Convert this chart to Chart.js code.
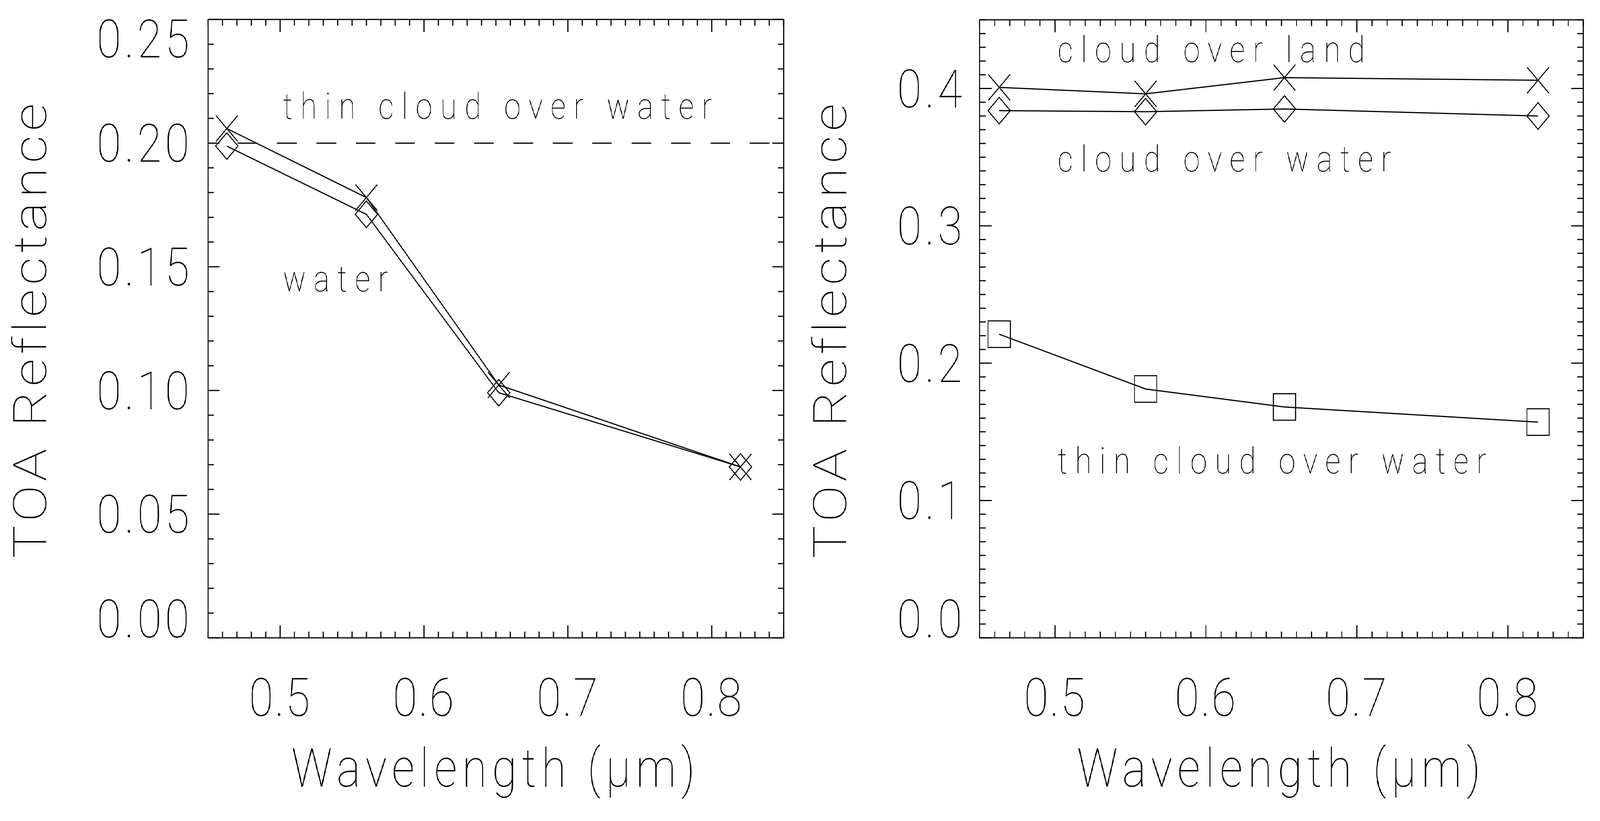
<!DOCTYPE html>
<html><head><meta charset="utf-8">
<script src="https://cdn.jsdelivr.net/npm/chart.js@4.4.1/dist/chart.umd.min.js"></script>
<style>
html,body{margin:0;padding:0;background:#fff;overflow:hidden;}
#wrap{position:absolute;left:0;top:0;width:4874px;height:2102px;background:#fff;transform-origin:0 0;}
canvas{position:absolute;top:0;}
#c1{left:0;}
#c2{left:2437px;}
</style></head><body>
<div id="wrap"><canvas id="c1" width="2437" height="2102" style="width:2437px;height:2102px"></canvas><canvas id="c2" width="2437" height="2102" style="width:2437px;height:2102px"></canvas></div>
<script>
// ---------- data ----------
const wavelength = [0.463, 0.560, 0.652, 0.820];
// left panel
const waterCross = [0.2059, 0.1780, 0.1022, 0.0691];
const waterDiamond = [0.1988, 0.1712, 0.0991, 0.0691];
const thinCloudLevel = 0.20;
// right panel
const cloudOverLand = [0.4008, 0.3961, 0.4079, 0.4060];
const cloudOverWater = [0.3839, 0.3831, 0.3851, 0.3800];
const thinCloudOverWater = [0.2211, 0.1812, 0.1681, 0.1571];
// axes
const xRange = [0.45, 0.85];
const xTicks = [0.5, 0.6, 0.7, 0.8];
const xTickLabels = ['0.5', '0.6', '0.7', '0.8'];
const leftYRange = [0, 0.25];
const leftYTicks = [0, 0.05, 0.10, 0.15, 0.20, 0.25];
const leftYTickLabels = ['0.00', '0.05', '0.10', '0.15', '0.20', '0.25'];
const rightYRange = [0, 0.45];
const rightYTicks = [0, 0.1, 0.2, 0.3, 0.4];
const rightYTickLabels = ['0.0', '0.1', '0.2', '0.3', '0.4'];
const xTitle = 'Wavelength (\u03BCm)';
const yTitle = 'TOA Reflectance';
const leftNotes = ['thin cloud over water', 'water'];
const rightNotes = ['cloud over land', 'cloud over water', 'thin cloud over water'];

// fit the 4874x2102 page into the actual viewport
(function () {
  const sx = window.innerWidth / 4874, sy = window.innerHeight / 2102;
  document.getElementById('wrap').style.transform = 'scale(' + sx + ',' + sy + ')';
})();

// ---------- helpers ----------
const FAM = 'Roboto, "DejaVu Sans", sans-serif';
const pts = ys => wavelength.map((w, i) => ({x: w, y: ys[i]}));

const spacingPlugin = {
  id: 'spacing',
  afterLayout(chart, args, o) {
    Object.keys(chart.scales).forEach(id => {
      const s = chart.scales[id];
      if (s.$ls) return;
      const cfg = (o && o[id]) || {};
      const wrap = (fn, ls) => function () {
        const c = this.ctx; c.save();
        if (ls != null) c.letterSpacing = ls + 'px';
        fn.apply(this, arguments); c.restore();
      };
      s.drawLabels = wrap(s.drawLabels, cfg.ticks);
      s.drawTitle = wrap(s.drawTitle, cfg.title);
      s.$ls = true;
    });
  }
};

const framePlugin = {
  id: 'frame',
  afterDatasetsDraw(chart, args, o) {
    const {ctx, chartArea: a, scales: {x, y}} = chart;
    ctx.save();
    ctx.strokeStyle = '#000'; ctx.lineWidth = 3; ctx.lineCap = 'butt';
    ctx.beginPath();
    const x0 = Math.round(x.min * 100), x1 = Math.round(x.max * 100);
    for (let i = x0; i <= x1; i++) {
      const px = x.getPixelForValue(i / 100);
      const len = (i % 10 === 0) ? o.xMajor : o.xMajor / 2;
      ctx.moveTo(px, a.bottom); ctx.lineTo(px, a.bottom - len);
      ctx.moveTo(px, a.top); ctx.lineTo(px, a.top + len);
    }
    const y0 = Math.round(y.min * 100), y1 = Math.round(y.max * 100);
    for (let i = y0; i <= y1; i++) {
      const py = y.getPixelForValue(i / 100);
      const len = (i % o.yMajorEvery === 0) ? o.yMajor : o.yMajor / 2;
      ctx.moveTo(a.left, py); ctx.lineTo(a.left + len, py);
      ctx.moveTo(a.right, py); ctx.lineTo(a.right - len, py);
    }
    ctx.stroke();
    ctx.strokeRect(a.left, a.top, a.right - a.left, a.bottom - a.top);
    // text notes
    ctx.fillStyle = '#000';
    ctx.font = '100 92px ' + FAM;
    ctx.textAlign = 'left'; ctx.textBaseline = 'alphabetic';
    ctx.letterSpacing = '24px';
    (o.notes || []).forEach(n => {
      ctx.fillText(n.text, x.getPixelForValue(n.x), y.getPixelForValue(n.y));
    });
    ctx.restore();
  }
};

function makeChart(el, cfg) {
  const edgeLabel = (labs, range) => (v, i) => {
    const lab = labs[i];
    if (Math.abs(v - range[0]) < 1e-9) return [lab, ''];
    if (Math.abs(v - range[1]) < 1e-9) return ['', lab];
    return lab;
  };
  return new Chart(el, {
    type: 'line',
    data: {datasets: cfg.datasets},
    options: {
      responsive: false, animation: false, devicePixelRatio: 1, events: [],
      layout: {padding: {left: 0, right: 47, top: 46, bottom: 0}},
      plugins: {
        legend: {display: false}, tooltip: {enabled: false},
        frame: {xMajor: 32, yMajor: cfg.yMajor, yMajorEvery: cfg.yMajorEvery, notes: cfg.notes},
        spacing: {x: {ticks: 4, title: 16}, y: {ticks: 10, title: 11}}
      },
      scales: {
        x: {
          type: 'linear', position: 'bottom', min: xRange[0], max: xRange[1],
          afterBuildTicks: s => { s.ticks = xTicks.map(v => ({value: v})); },
          afterFit: s => { s.height = 469; s.paddingLeft = 0; s.paddingRight = 0; s.paddingTop = 0; s.paddingBottom = 0; },
          grid: {display: false, drawTicks: false}, border: {display: false},
          ticks: {color: '#000', autoSkip: false, maxRotation: 0, padding: 98,
            font: {family: FAM, weight: 100, size: 136, lineHeight: 1},
            callback: (v, i) => xTickLabels[i]},
          title: {display: true, text: xTitle, color: '#000',
            font: {family: FAM, weight: 100, size: 137, lineHeight: 1},
            padding: {top: 0, bottom: 54}}
        },
        y: {
          type: 'linear', position: 'left', min: cfg.yRange[0], max: cfg.yRange[1],
          afterBuildTicks: s => { s.ticks = cfg.yTicks.map(v => ({value: v})); },
          afterFit: s => { s.width = cfg.yWidth; s.paddingTop = 0; s.paddingBottom = 0; s.paddingLeft = 0; s.paddingRight = 0; },
          grid: {display: false, drawTicks: false}, border: {display: false},
          ticks: {color: '#000', autoSkip: false, padding: cfg.yPad, labelOffset: 14,
            font: {family: FAM, weight: 100, size: 136, lineHeight: '98px'},
            callback: edgeLabel(cfg.yLabels, cfg.yRange)},
          title: {display: true, text: yTitle, color: '#000',
            font: {family: FAM, weight: 100, size: 141, lineHeight: 1},
            padding: {top: 35, bottom: 0}}
        }
      }
    },
    plugins: [spacingPlugin, framePlugin]
  });
}

const lineBase = {borderColor: '#000', borderWidth: 3, pointBorderColor: '#000',
  pointBackgroundColor: 'rgba(0,0,0,0)', pointBorderWidth: 2.8, tension: 0, fill: false};

makeChart(document.getElementById('c1'), {
  yRange: leftYRange, yTicks: leftYTicks, yLabels: leftYTickLabels, yWidth: 634, yPad: 47,
  yMajor: 35, yMajorEvery: 5,
  notes: [{text: leftNotes[0], x: 0.502, y: 0.2098}, {text: leftNotes[1], x: 0.502, y: 0.140}],
  datasets: [
    Object.assign({}, lineBase, {label: 'thin cloud over water', data: [{x: xRange[0], y: thinCloudLevel}, {x: xRange[1], y: thinCloudLevel}],
      pointRadius: 0, borderDash: [60, 60], borderDashOffset: 30}),
    Object.assign({}, lineBase, {label: 'water (x)', data: pts(waterCross), pointStyle: 'crossRot', pointRadius: 47}),
    Object.assign({}, lineBase, {label: 'water (diamond)', data: pts(waterDiamond), pointStyle: 'rectRot', pointRadius: 34})
  ]
});

makeChart(document.getElementById('c2'), {
  yRange: rightYRange, yTicks: rightYTicks, yLabels: rightYTickLabels, yWidth: 547, yPad: 43,
  yMajor: 37, yMajorEvery: 10,
  notes: [{text: rightNotes[0], x: 0.5017, y: 0.4193}, {text: rightNotes[1], x: 0.5017, y: 0.3395},
          {text: rightNotes[2], x: 0.5017, y: 0.1198}],
  datasets: [
    Object.assign({}, lineBase, {label: 'cloud over land', data: pts(cloudOverLand), pointStyle: 'crossRot', pointRadius: 47}),
    Object.assign({}, lineBase, {label: 'cloud over water', data: pts(cloudOverWater), pointStyle: 'rectRot', pointRadius: 34}),
    Object.assign({}, lineBase, {label: 'thin cloud over water', data: pts(thinCloudOverWater), pointStyle: 'rect', pointRadius: 48})
  ]
});
</script>
</body></html>
